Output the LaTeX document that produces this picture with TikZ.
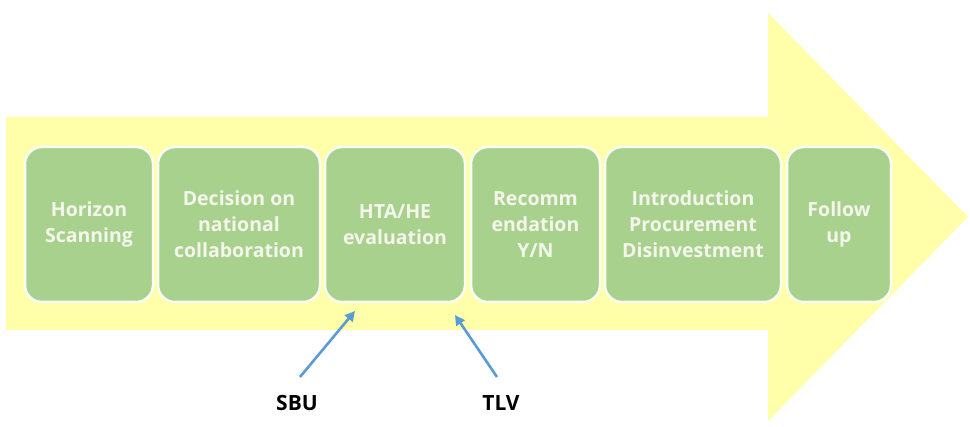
\documentclass[tikz,border=0pt]{standalone}
\usepackage{fontspec}
\setmainfont{Open Sans}
\usetikzlibrary{arrows.meta}
\definecolor{bandyellow}{RGB}{255,255,170}
\definecolor{stepgreen}{RGB}{169,209,142}
\definecolor{steptext}{RGB}{244,246,236}
\definecolor{pointerblue}{RGB}{91,155,213}
\tikzset{
  stepbox/.style={rectangle, rounded corners=17pt, fill=stepgreen,
    draw=white!92!stepgreen, line width=2.5pt, inner sep=0pt,
    minimum height=155pt, align=center, text=steptext,
    font=\fontsize{19.5}{26}\selectfont\bfseries},
  agency/.style={font=\fontsize{21}{24}\selectfont\bfseries, text=black, inner sep=0pt},
  pointer/.style={draw=pointerblue, line width=2.6pt,
    -{Triangle[length=10pt,width=10pt]}}
}
\begin{document}
\begin{tikzpicture}[x=1pt,y=-1pt]
  \useasboundingbox (0,0) rectangle (970,427);
  % process band: shaft and arrow head
  \fill[bandyellow] (6,117) -- (768,117) -- (768,13) -- (968,217)
    -- (768,421) -- (768,330) -- (6,330) -- cycle;
  % process steps
  \node[stepbox, minimum width=128pt] (scan) at (89,224.5) {Horizon\\Scanning};
  \node[stepbox, minimum width=162pt] (decide) at (239,224.5) {Decision on\\national\\collaboration};
  \node[stepbox, minimum width=140pt] (hta) at (395,224.5) {HTA/HE\\evaluation};
  \node[stepbox, minimum width=129pt] (recom) at (535.5,224.5) {Recomm\\endation\\Y/N};
  \node[stepbox, minimum width=176pt] (intro) at (693,224.5) {Introduction\\Procurement\\Disinvestment};
  \node[stepbox, minimum width=104pt] (follow) at (839,224.5) {Follow\\up};
  % agencies feeding the evaluation step
  \node[agency] (sbu) at (297,403) {SBU};
  \node[agency] (tlv) at (501,403) {TLV};
  \coordinate (sbuTail) at (300,377);
  \coordinate (sbuHead) at (355,311);
  \coordinate (tlvTail) at (497,377);
  \coordinate (tlvHead) at (455,315);
  \draw[pointer] (sbuTail) -- (sbuHead);
  \draw[pointer] (tlvTail) -- (tlvHead);
\end{tikzpicture}
\end{document}
